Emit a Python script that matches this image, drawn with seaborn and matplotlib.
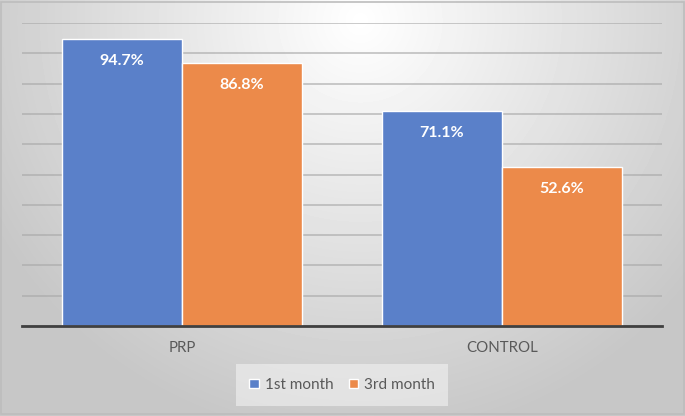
import numpy as np
import pandas as pd
import matplotlib
matplotlib.use("Agg")
import matplotlib.pyplot as plt
import seaborn as sns

# data
groups = ["PRP", "CONTROL"]
periods = ["1st month", "3rd month"]
first_month = [94.7, 71.1]
third_month = [86.8, 52.6]
colors = ["#5a80c9", "#ec8a4a"]

df = pd.DataFrame({
    "group": groups * 2,
    "period": [periods[0]] * 2 + [periods[1]] * 2,
    "value": first_month + third_month,
})

sns.set_style("white")
plt.rcParams["font.family"] = ["Lato", "DejaVu Sans"]

fig = plt.figure(figsize=(6.85, 4.16), dpi=100)

# radial grey gradient background
bg = fig.add_axes([0, 0, 1, 1], zorder=-10)
yy, xx = np.mgrid[0:416, 0:685]
r = np.sqrt(((xx - 360) / 420.0) ** 2 + ((yy - 20) / 420.0) ** 2)
shade = np.clip(1.0 - 0.22 * r, 0.78, 1.0)
bg.imshow(shade, cmap="gray", vmin=0, vmax=1, aspect="auto")
bg.add_patch(plt.Rectangle((0.5, 1.5), 683, 412, fill=False,
                           edgecolor="#bdbdbd", linewidth=1.2))
bg.set_axis_off()

ax = fig.add_axes([22 / 685, 1 - 326 / 416, 640 / 685, 303 / 416])
ax.set_facecolor("none")
sns.barplot(data=df, x="group", y="value", hue="period", palette=colors,
            saturation=1, width=0.75, edgecolor="white", linewidth=1,
            ax=ax, zorder=3)

ax.set_ylim(0, 100)
ax.set_xlim(-0.5, 1.5)
ax.set_yticks(np.arange(0, 101, 10))
ax.set_yticklabels([])
ax.tick_params(axis="y", length=0)
ax.tick_params(axis="x", length=0, pad=11, labelsize=10.8, labelcolor="#595959")
ax.yaxis.grid(True, color="#a8a8a8", linewidth=1.3, alpha=0.65, zorder=0)
ax.set_axisbelow(True)
ax.set_xlabel("")
ax.set_ylabel("")
for side in ["top", "right", "left"]:
    ax.spines[side].set_visible(False)
ax.spines["bottom"].set_color("#404040")
ax.spines["bottom"].set_linewidth(2)
ax.spines["bottom"].set_zorder(4)

for cont in ax.containers:
    labels = [f"{v:.1f}%" for v in cont.datavalues]
    ax.bar_label(cont, labels=labels, padding=-21, color="white",
                 fontsize=11.5, fontweight="bold")

handles, labels = ax.get_legend_handles_labels()
ax.get_legend().remove()
leg = fig.legend(handles, labels, loc="center", bbox_to_anchor=(342 / 685, 1 - 385 / 416),
                 ncol=2, frameon=True, fontsize=11, handlelength=0.6, handleheight=0.6,
                 handletextpad=0.4, columnspacing=1.0, borderpad=0.6)
leg.get_frame().set_facecolor("#f2f2f2")
leg.get_frame().set_alpha(0.6)
leg.get_frame().set_edgecolor("none")
leg.get_frame().set_boxstyle("square")
for t in leg.get_texts():
    t.set_color("#595959")

fig.savefig("out.png", dpi=100)
